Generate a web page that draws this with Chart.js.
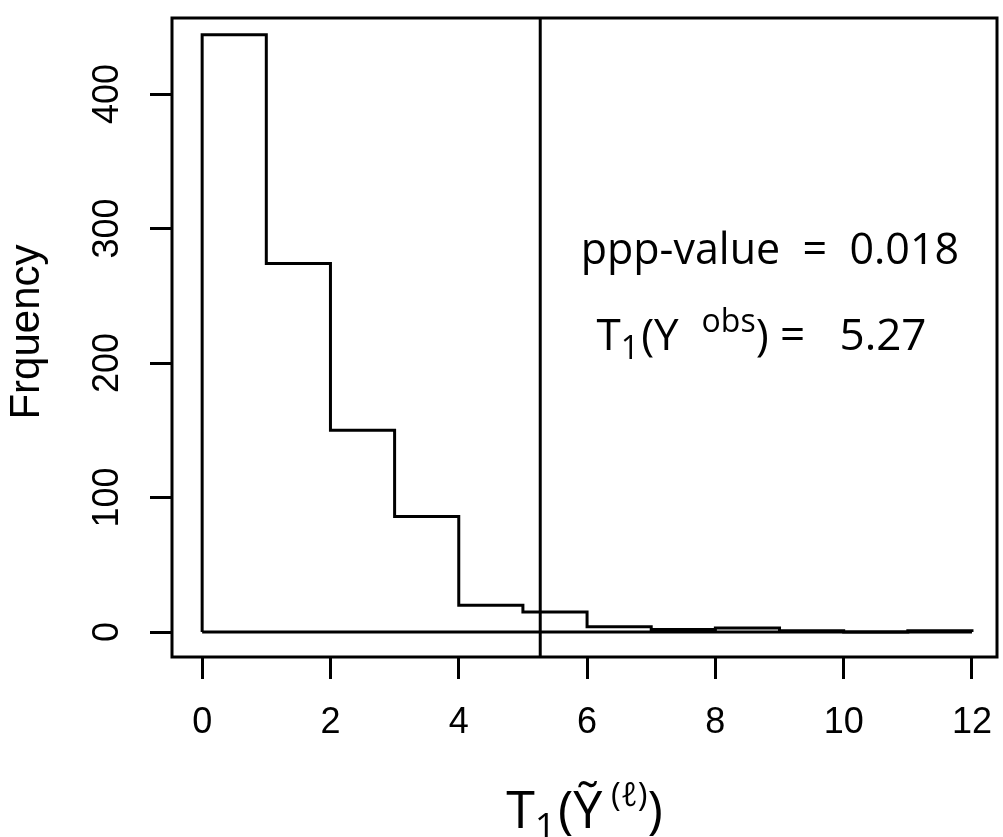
<!DOCTYPE html>
<html>
<head>
<meta charset="utf-8">
<script src="https://cdn.jsdelivr.net/npm/chart.js@4.4.1/dist/chart.umd.min.js"></script>
<style>
  html, body { margin: 0; padding: 0; background: #fff; }
</style>
</head>
<body>
<canvas id="histChart" width="1003" height="837"></canvas>
<script>
// histogram data
const binEdges = [0, 1, 2, 3, 4, 5, 6, 7, 8, 9, 10, 11, 12];
const counts = [444, 274, 150, 86, 20, 15, 4, 2, 3, 1, 0, 1];
const xTicks = [0, 2, 4, 6, 8, 10, 12];
const yTicks = [0, 100, 200, 300, 400];
const tObs = 5.27;
const pppValue = '0.018';
const tObsLabel = '5.27';

const xMin = -0.47, xMax = 12.39;
const yMin = -18.5, yMax = 456.5;

// stepped outline of the histogram, plus its baseline
const outline = [{ x: binEdges[0], y: 0 }];
counts.forEach((c, i) => outline.push({ x: binEdges[i], y: c }));
outline.push({ x: binEdges[binEdges.length - 1], y: counts[counts.length - 1] });
outline.push({ x: binEdges[binEdges.length - 1], y: 0 });
const baseline = [{ x: binEdges[0], y: 0 }, { x: binEdges[binEdges.length - 1], y: 0 }];
const obsLine = [{ x: tObs, y: yMin }, { x: tObs, y: yMax }];

const AXIS_FONT = 'Liberation Sans';
const NOTE_FONT = 'Open Sans';
const LW = 3;

// draw a run of text pieces (with sub/superscripts) centred on x
function drawRich(ctx, parts, cx, baseY) {
  let total = 0;
  parts.forEach(p => {
    ctx.font = p.size + 'px "' + NOTE_FONT + '"';
    p.w = ctx.measureText(p.t).width;
    total += p.w + (p.gap || 0);
  });
  let x = cx - total / 2;
  ctx.textAlign = 'left';
  ctx.textBaseline = 'alphabetic';
  parts.forEach(p => {
    ctx.font = p.size + 'px "' + NOTE_FONT + '"';
    ctx.fillText(p.t, x, baseY + (p.dy || 0));
    x += p.w + (p.gap || 0);
  });
}

const framePlugin = {
  id: 'frame',
  afterDraw(chart) {
    const { ctx, chartArea: a, scales } = chart;
    ctx.save();
    ctx.strokeStyle = '#000';
    ctx.lineWidth = LW;
    ctx.strokeRect(a.left, a.top, a.right - a.left, a.bottom - a.top);

    // y tick labels, rotated like R (baseline faces the plot)
    ctx.fillStyle = '#000';
    ctx.font = '36px "' + AXIS_FONT + '"';
    ctx.textAlign = 'center';
    ctx.textBaseline = 'alphabetic';
    yTicks.forEach(v => {
      ctx.save();
      ctx.translate(118, scales.y.getPixelForValue(v));
      ctx.rotate(-Math.PI / 2);
      ctx.fillText(String(v), 0, 0);
      ctx.restore();
    });

    // y axis title (sic)
    ctx.save();
    ctx.font = '42px "' + AXIS_FONT + '"';
    ctx.translate(39, 332);
    ctx.rotate(-Math.PI / 2);
    ctx.fillText('Frquency', 0, 0);
    ctx.restore();

    // x axis title
    drawRich(ctx, [
      { t: 'T', size: 52 },
      { t: '1', size: 37, dy: 11, gap: 2 },
      { t: '(Ỹ', size: 52 },
      { t: ' (ℓ)', size: 33, dy: -22 },
      { t: ')', size: 52 }
    ], (a.left + a.right) / 2, 828);

    // annotations
    drawRich(ctx, [{ t: 'ppp-value  =  ' + pppValue, size: 43 }],
      scales.x.getPixelForValue(8.85), scales.y.getPixelForValue(274));
    drawRich(ctx, [
      { t: 'T', size: 44 },
      { t: '1', size: 32, dy: 9, gap: 2 },
      { t: '(Y  ', size: 44 },
      { t: 'obs', size: 32, dy: -18 },
      { t: ') =   ' + tObsLabel, size: 44 }
    ], scales.x.getPixelForValue(8.72), scales.y.getPixelForValue(210));
    ctx.restore();
  }
};

const ctx = document.getElementById('histChart').getContext('2d');
const histChart = new Chart(ctx, {
  type: 'line',
  data: {
    datasets: [
      { data: outline, stepped: 'before', borderColor: '#000', borderWidth: LW, pointRadius: 0, fill: false },
      { data: baseline, borderColor: '#000', borderWidth: LW, pointRadius: 0, fill: false },
      { data: obsLine, borderColor: '#000', borderWidth: LW, pointRadius: 0, fill: false }
    ]
  },
  options: {
    responsive: false,
    animation: false,
    layout: { padding: { top: 18, right: 6, left: 0, bottom: 0 } },
    plugins: { legend: { display: false }, tooltip: { enabled: false } },
    scales: {
      x: {
        type: 'linear',
        min: xMin,
        max: xMax,
        border: { display: false },
        grid: { drawOnChartArea: false, drawTicks: true, tickLength: 22, tickWidth: LW, tickColor: '#000' },
        ticks: {
          stepSize: 2,
          includeBounds: false,
          autoSkip: false,
          maxRotation: 0,
          color: '#000',
          padding: 22,
          font: { family: AXIS_FONT, size: 36 }
        },
        afterFit(scale) {
          scale.height = 180;
          scale.paddingLeft = 0;
          scale.paddingRight = 0;
        }
      },
      y: {
        type: 'linear',
        min: yMin,
        max: yMax,
        border: { display: false },
        grid: { drawOnChartArea: false, drawTicks: true, tickLength: 22, tickWidth: LW, tickColor: '#000' },
        ticks: { stepSize: 100, includeBounds: false, display: false },
        afterFit(scale) { scale.width = 172; }
      }
    }
  },
  plugins: [framePlugin]
});
</script>
</body>
</html>
